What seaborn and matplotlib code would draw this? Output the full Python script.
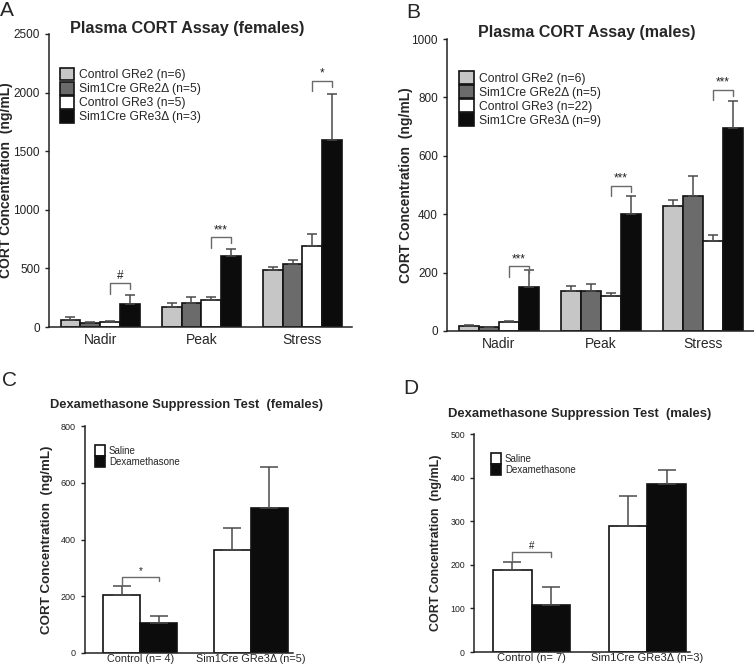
import matplotlib
matplotlib.use("Agg")
import matplotlib.pyplot as plt
import seaborn as sns
import pandas as pd
import numpy as np

# ---- data ----
assay_phases = ["Nadir", "Peak", "Stress"]

fem_groups = ["Control GRe2 (n=6)", "Sim1Cre GRe2Δ (n=5)", "Control GRe3 (n=5)", "Sim1Cre GRe3Δ (n=3)"]
fem_mean = [[60, 171, 489], [37, 208, 540], [45, 228, 694], [193, 606, 1596]]
fem_top = [[88, 202, 509], [45, 256, 572], [54, 253, 796], [276, 663, 1985]]

male_groups = ["Control GRe2 (n=6)", "Sim1Cre GRe2Δ (n=5)", "Control GRe3 (n=22)", "Sim1Cre GRe3Δ (n=9)"]
male_mean = [[17, 137, 429], [13, 137, 464], [32, 120, 309], [152, 401, 696]]
male_top = [[21, 154, 447], [15, 160, 530], [35, 129, 329], [209, 462, 789]]

fem_sig_y = [373, 765, 2102]
fem_sig_txt = ["#", "***", "*"]
male_sig_y = [221, 497, 826]
male_sig_txt = ["***", "***", "***"]

dex_treat = ["Saline", "Dexamethasone"]
dex_fem_geno = ["Control (n= 4)", "Sim1Cre GRe3Δ (n=5)"]
dex_fem_mean = [[206, 363], [106, 512]]
dex_fem_top = [[236, 442], [132, 654]]
dex_male_geno = ["Control (n= 7)", "Sim1Cre GRe3Δ (n=3)"]
dex_male_mean = [[188, 288], [108, 385]]
dex_male_top = [[206, 358], [150, 417]]

FOUR_COLS = ["#c6c6c6", "#6b6b6b", "#ffffff", "#0c0c0c"]
TWO_COLS = ["#ffffff", "#0c0c0c"]

sns.set_style("ticks")
plt.rcParams["font.family"] = ["Liberation Sans", "DejaVu Sans"]

fig = plt.figure(figsize=(7.54, 6.66), dpi=100)
W, H = 754, 666


def box(l, r, t, b):
    return [l / W, 1 - b / H, (r - l) / W, (b - t) / H]


def long_df(cats, groups, means, tops):
    rows = []
    for g, m, t in zip(groups, means, tops):
        for c, mv, tv in zip(cats, m, t):
            rows.append({"cat": c, "grp": g, "val": mv, "top": tv})
    return pd.DataFrame(rows)


def panel(rect, cats, groups, means, tops, cols, width, ylim, yticks, xlim,
          fs_tick, fs_xt, fs_lab, fs_leg, leg_xy, ylab_x, sig_y=None, sig_txt=None,
          sig_pair=(2, 3), capsize=3.5, fs_sig=8.5, leg_kw=None, xpad=4.5):
    ax = fig.add_axes(rect)
    df = long_df(cats, groups, means, tops)
    sns.barplot(data=df, x="cat", y="val", hue="grp", hue_order=groups,
                palette=cols, width=width, errorbar=None, edgecolor="#111111",
                linewidth=1.2, saturation=1, legend=False, ax=ax)
    # upper error bars only
    for cont, t in zip(ax.containers, tops):
        xs = [p.get_x() + p.get_width() / 2 for p in cont.patches]
        hs = [p.get_height() for p in cont.patches]
        ax.errorbar(xs, hs, yerr=[np.zeros(len(hs)), np.array(t) - np.array(hs)],
                    fmt="none", ecolor="#4a4a4a", elinewidth=1.1, capsize=capsize,
                    capthick=1.1, zorder=1)
    # significance brackets
    if sig_y is not None:
        a, b = sig_pair
        span = ylim[1] - ylim[0]
        leg = span * 0.035
        for i, (yv, s) in enumerate(zip(sig_y, sig_txt)):
            pa = ax.containers[a].patches[i]
            pb = ax.containers[b].patches[i]
            x1 = pa.get_x() + pa.get_width() / 2
            x2 = pb.get_x() + pb.get_width() / 2
            ax.plot([x1, x1, x2, x2], [yv - leg, yv, yv, yv - leg * 0.6],
                    color="#6a6a6a", lw=1.0, clip_on=False)
            ax.text((x1 + x2) / 2, yv + span * 0.004, s, ha="center", va="bottom",
                    fontsize=fs_sig, color="#222222")
    ax.set_ylim(*ylim)
    ax.set_yticks(yticks)
    ax.set_xlim(*xlim)
    ax.set_xlabel("")
    ax.set_ylabel("CORT Concentration  (ng/mL)", fontsize=fs_lab, fontweight="bold")
    ax.yaxis.set_label_coords(ylab_x, 0.5)
    ax.tick_params(axis="y", labelsize=fs_tick, length=3, width=1, colors="#222222")
    ax.tick_params(axis="x", labelsize=fs_xt, length=0, pad=xpad)
    for sp in ["top", "right"]:
        ax.spines[sp].set_visible(False)
    for sp in ["left", "bottom"]:
        ax.spines[sp].set_linewidth(1.1)
        ax.spines[sp].set_color("#222222")
    kw = dict(handlelength=1.2, handleheight=1.25, handletextpad=0.4, labelspacing=0.05)
    if leg_kw:
        kw.update(leg_kw)
    ax.legend(ax.containers, groups, loc="upper left", bbox_to_anchor=leg_xy,
              frameon=False, fontsize=fs_leg, borderaxespad=0, borderpad=0, **kw)
    return ax


# A
panel(box(49, 352, 34, 327), assay_phases, fem_groups, fem_mean, fem_top, FOUR_COLS,
      0.78, (0, 2500), [0, 500, 1000, 1500, 2000, 2500], (-0.505, 2.49),
      8.5, 10, 10, 8.7, (0.036, 0.885), -0.118, fem_sig_y, fem_sig_txt)
# B
panel(box(447, 754, 39, 331), assay_phases, male_groups, male_mean, male_top, FOUR_COLS,
      0.78, (0, 1000), [0, 200, 400, 600, 800, 1000], (-0.51, 2.5),
      8.5, 10, 10, 8.7, (0.04, 0.89), -0.112, male_sig_y, male_sig_txt)
# C
panel(box(85, 293, 426, 653), dex_fem_geno, dex_treat, dex_fem_mean, dex_fem_top, TWO_COLS,
      0.67, (0, 800), [0, 200, 400, 600, 800], (-0.5, 1.38),
      6.5, 7.8, 9.6, 7, (0.05, 0.915), -0.155, [269], ["*"], sig_pair=(0, 1),
      capsize=6.5, fs_sig=7, xpad=1.0,
      leg_kw=dict(handleheight=1.35, labelspacing=0.0, handlelength=1.0))
# D
panel(box(474, 690, 434, 652), dex_male_geno, dex_treat, dex_male_mean, dex_male_top, TWO_COLS,
      0.67, (0, 500), [0, 100, 200, 300, 400, 500], (-0.5, 1.37),
      6.3, 8, 9.0, 7, (0.08, 0.912), -0.15, [229], ["#"], sig_pair=(0, 1),
      capsize=6.5, fs_sig=7, xpad=1.0,
      leg_kw=dict(handleheight=1.35, labelspacing=0.0, handlelength=1.0))

# titles and panel letters
fig.text(187 / W, 1 - 28 / H, "Plasma CORT Assay (females)", ha="center", va="center",
         fontsize=11.7, fontweight="bold")
fig.text(587 / W, 1 - 33 / H, "Plasma CORT Assay (males)", ha="center", va="center",
         fontsize=11.5, fontweight="bold")
fig.text(187 / W, 1 - 405 / H, "Dexamethasone Suppression Test  (females)", ha="center",
         va="center", fontsize=9.3, fontweight="bold")
fig.text(580 / W, 1 - 414 / H, "Dexamethasone Suppression Test  (males)", ha="center",
         va="center", fontsize=9.4, fontweight="bold")
for lab, x, y in [("A", 0, 10), ("B", 406, 13), ("C", 2, 381), ("D", 403, 388)]:
    fig.text(x / W, 1 - y / H, lab, ha="left", va="center", fontsize=15)

fig.savefig("out.png", dpi=100)
